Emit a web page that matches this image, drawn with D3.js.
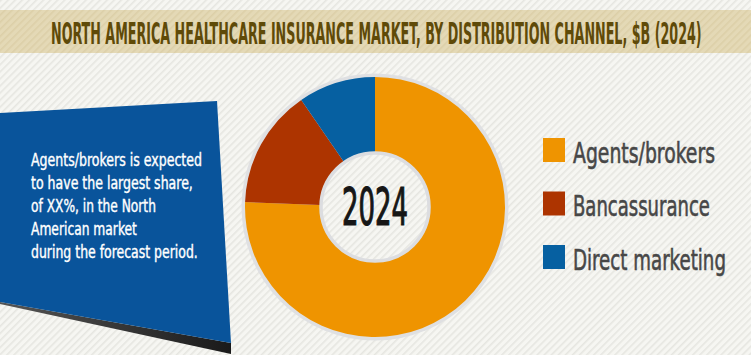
<!DOCTYPE html>
<html><head><meta charset="utf-8">
<script src="https://cdn.jsdelivr.net/npm/d3@7"></script>
<style>html,body{margin:0;padding:0;background:#f6f6f2;}svg{display:block;}</style>
</head><body>
<svg id="c" width="751" height="355"></svg>
<script>
const title = "NORTH AMERICA HEALTHCARE INSURANCE MARKET, BY DISTRIBUTION CHANNEL, $B (2024)";
const categories = ["Agents/brokers", "Bancassurance", "Direct marketing"];
const values = [75.6, 14.8, 9.6];
const colors = ["#ef9400", "#ad3400", "#0660a1"];
const centerLabel = "2024";
const noteLines = ["Agents/brokers is expected", "to have the largest share,", "of XX%, in the North", "American market", "during the forecast period."];
const noteWidths = [171, 162, 125, 106, 167];
const legendWidths = [142, 137, 153];

const FONT = "'DejaVu Sans Condensed', 'DejaVu Sans', sans-serif";
const svg = d3.select("#c");
const defs = svg.append("defs");

// squeeze a text horizontally to a target width, anchored at (x, y)
function fit(sel, x, y, width) {
  sel.each(function (d, i) {
    const w = typeof width === "function" ? width(d, i) : width;
    const nat = this.getComputedTextLength();
    const xx = typeof x === "function" ? x(d, i) : x;
    const yy = typeof y === "function" ? y(d, i) : y;
    d3.select(this).attr("x", 0).attr("y", 0)
      .attr("transform", `translate(${xx},${yy}) scale(${w / nat},1)`);
  });
}

function stripes(id, bg, fg) {
  const p = defs.append("pattern").attr("id", id).attr("patternUnits", "userSpaceOnUse")
    .attr("width", 5).attr("height", 5).attr("patternTransform", "rotate(45)");
  p.append("rect").attr("width", 5).attr("height", 5).attr("fill", bg);
  p.append("rect").attr("x", 0).attr("width", 1.6).attr("height", 5).attr("fill", fg);
}
stripes("bgStripe", "#f6f6f2", "#e6e6e1");
stripes("bandStripe", "#e4d9b6", "#dccfa8");

const sg = defs.append("linearGradient").attr("id", "shadow").attr("x1", 0).attr("x2", 1);
sg.append("stop").attr("offset", 0).attr("stop-color", "#555");
sg.append("stop").attr("offset", 1).attr("stop-color", "#1a1a1a");

svg.append("rect").attr("width", 751).attr("height", 355).attr("fill", "url(#bgStripe)");

// title band
svg.append("rect").attr("x", 0).attr("y", 10).attr("width", 751).attr("height", 43).attr("fill", "url(#bandStripe)");
svg.append("text").attr("font-family", FONT).attr("font-size", 30).attr("font-weight", "bold")
  .attr("fill", "#5f4a08").text(title).call(fit, 51, 44, 651);

// blue note panel
svg.append("path").attr("d", d3.line()([[0, 302], [231, 343], [231, 354], [0, 304]])).attr("fill", "url(#shadow)");
svg.append("path").attr("d", d3.line()([[0, 113], [217, 101], [231, 343], [0, 302]]) + "Z").attr("fill", "#09549b");
svg.append("g").selectAll("text").data(noteLines).join("text")
  .attr("font-family", FONT).attr("font-size", 17.5).attr("fill", "#ffffff")
  .attr("stroke", "#ffffff").attr("stroke-width", 0.4)
  .text(d => d)
  .call(fit, 31, (d, i) => 166 + i * 23, (d, i) => noteWidths[i]);

// donut
const cx = 375, cy = 207;
const g = svg.append("g").attr("transform", `translate(${cx},${cy})`);
g.append("circle").attr("r", 133.5).attr("fill", "#dfe0e2");
const pie = d3.pie().sort(null).value(d => d)(values);
const arc = d3.arc().innerRadius(55).outerRadius(130);
g.selectAll("path.slice").data(pie).join("path").attr("class", "slice")
  .attr("d", arc).attr("fill", (d, i) => colors[i]);
g.append("circle").attr("r", 54).attr("fill", "url(#bgStripe)").attr("stroke", "#dcdde0").attr("stroke-width", 3.5);
g.append("text").attr("font-family", FONT).attr("font-size", 52).attr("fill", "#161616")
  .attr("stroke", "#161616").attr("stroke-width", 1.2)
  .text(centerLabel).call(fit, -33, 18, 66);

// legend
const y = d3.scalePoint().domain(categories).range([138, 245]);
const lg = svg.append("g").selectAll("g").data(categories).join("g")
  .attr("transform", d => `translate(543,${y(d)})`);
lg.append("rect").attr("width", 22).attr("height", 24).attr("fill", (d, i) => colors[i]);
lg.append("text").attr("font-family", FONT).attr("font-size", 29)
  .attr("fill", "#474747").attr("stroke", "#474747").attr("stroke-width", 0.6).text(d => d)
  .call(fit, 30, 24.5, (d, i) => legendWidths[i]);
</script>
</body></html>
